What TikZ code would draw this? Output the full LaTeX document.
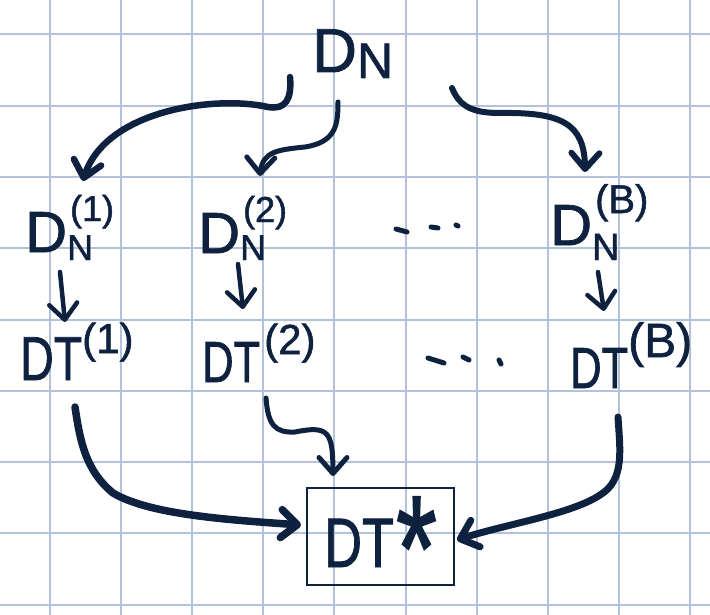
\documentclass[tikz,border=0pt]{standalone}
\usepackage{fontspec}
\usepackage{graphicx}
\setmainfont[FakeBold=1.3,AutoFakeBold=1.3]{Liberation Sans}
\usetikzlibrary{arrows.meta,bending}
\definecolor{ink}{HTML}{0E2240}
\definecolor{gridc}{HTML}{B2C2DA}
\newcommand\fs[1]{\fontsize{#1}{#1}\selectfont}
\newcommand\sq[1]{\scalebox{0.75}[1]{#1}}
\tikzset{
  lbl/.style={inner sep=0pt, text=ink, anchor=base west},
  gridline/.style={draw=gridc, line width=2pt},
  inkarrow/.style={draw=ink, line width=#1, line cap=round, line join=round,
    -{Straight Barb[length=16pt,width=28pt,round]}},
  dotstroke/.style={draw=ink, line width=5pt, line cap=round},
  totalbox/.style={draw=ink, line width=2pt, text=ink, inner sep=0pt,
    minimum width=147pt, minimum height=97pt, text height=61pt, text depth=0pt}
}
\begin{document}
\begin{tikzpicture}[x=1pt,y=-1pt]
\useasboundingbox (0,0) rectangle (710,615);
\fill[white] (0,0) rectangle (710,615);
% grid
\foreach \k in {0,...,9} \draw[gridline] ({49.5+71.2*\k},0) -- ({49.5+71.2*\k},615);
\foreach \k in {0,...,8} \draw[gridline] (0,{34.3+71.3*\k}) -- (710,{34.3+71.3*\k});

% labels
\node[lbl] (dn) at (312,72) {\fs{62}D\fs{50}\raisebox{-6pt}{N}};
\node[lbl] (dn1) at (25,252) {\fs{58}D\fs{36}\rlap{\raisebox{-8pt}{N}}\hspace{3pt}\raisebox{31pt}{(1)}};
\node[lbl] (dn2) at (198,253) {\fs{58}D\fs{36}\rlap{\raisebox{-7pt}{N}}\hspace{3pt}\raisebox{31pt}{(2)}};
\node[lbl] (dnB) at (550,245) {\fs{58}D\fs{38}\rlap{\raisebox{-15pt}{N}}\hspace{3pt}\raisebox{32pt}{\fs{40}(B)}};
\node[lbl] (dt1) at (20,380) {\fs{62}\sq{DT}\fs{42}\raisebox{27pt}{(1)}};
\node[lbl] (dt2) at (202,382) {\fs{58}\sq{DT}\hspace{4pt}\fs{42}\raisebox{28pt}{(2)}};
\node[lbl] (dtB) at (570,388) {\fs{58}\sq{DT}\fs{48}\raisebox{31pt}{(B)}};
\node[totalbox] (dts) at (380.5,536.5) {\fs{70}\sq{DT}\hspace{2pt}\raisebox{-33pt}{\scalebox{0.7}[1]{\fs{150}*}}};

% dots
\draw[dotstroke] (396,229) -- (407,232);
\draw[dotstroke] (431,227) -- (438,228);
\draw[dotstroke] (456,225) -- (458,226);
\draw[dotstroke] (428,358) -- (444,363);
\draw[dotstroke] (463,357) -- (469,360);
\draw[dotstroke] (499,360) -- (501,364);

% connector endpoints
\coordinate (s1) at (290,77);   \coordinate (e1) at (83,181);
\coordinate (s2) at (338,102);  \coordinate (e2) at (260,176);
\coordinate (s3) at (452,88);   \coordinate (e3) at (585,172);
\coordinate (s4) at (60,272);   \coordinate (e4) at (65,322);
\coordinate (s5) at (238,264);  \coordinate (e5) at (243,309);
\coordinate (s6) at (598,272);  \coordinate (e6) at (604,311);
\coordinate (s7) at (75,407);   \coordinate (e7) at (301,525);
\coordinate (s8) at (266,398);  \coordinate (e8) at (333,476);
\coordinate (s9) at (618,417);  \coordinate (e9) at (457,540);

% arrows
\draw[inkarrow=6.5pt] (s1) .. controls (292,100) and (285,110) .. (268,107)
   .. controls (215,95) and (100,110) .. (e1);
\draw[inkarrow=5pt] (s2) .. controls (338,125) and (336,142) .. (305,147)
   .. controls (275,150) and (261,152) .. (e2);
\draw[inkarrow=6pt] (s3) .. controls (460,108) and (475,113) .. (500,113)
   .. controls (565,112) and (586,125) .. (e3);
\draw[inkarrow=4.5pt] (s4) -- (e4);
\draw[inkarrow=4.5pt] (s5) -- (e5);
\draw[inkarrow=4.5pt] (s6) -- (e6);
\draw[inkarrow=7.5pt] (s7) .. controls (80,440) and (85,470) .. (113,493)
   .. controls (150,515) and (230,520) .. (e7);
\draw[inkarrow=5pt] (s8) .. controls (268,425) and (275,433) .. (295,432)
   .. controls (330,425) and (333,432) .. (e8);
\draw[inkarrow=7pt] (s9) .. controls (620,450) and (625,480) .. (600,495)
   .. controls (570,515) and (500,525) .. (e9);
\end{tikzpicture}
\end{document}
